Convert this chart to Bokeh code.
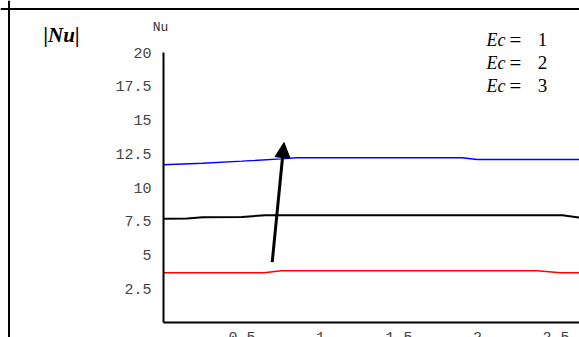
from bokeh.plotting import figure
from bokeh.models import LinearAxis, FixedTicker, Range1d, Label, Span, Arrow, NormalHead
from bokeh.embed import file_html
from bokeh.resources import INLINE

# ---- data ----
x_ec1 = [0, 0.64, 0.75, 2.38, 2.53, 2.7]
nu_ec1 = [3.68, 3.68, 3.83, 3.83, 3.68, 3.68]

x_ec2 = [0, 0.15, 0.25, 0.5, 0.65, 2.54, 2.7]
nu_ec2 = [7.68, 7.7, 7.8, 7.82, 7.95, 7.95, 7.7]

x_ec3 = [0, 0.25, 0.5, 0.75, 0.85, 1.9, 2.0, 2.7]
nu_ec3 = [11.68, 11.8, 11.95, 12.12, 12.2, 12.2, 12.07, 12.07]

x_ticks = [0.5, 1, 1.5, 2, 2.5]
x_tick_labels = ["0.5", "1", "1.5", "2", "2.5"]
y_ticks = [2.5, 5, 7.5, 10, 12.5, 15, 17.5, 20]
y_tick_labels = ["2.5", "5", "7.5", "10", "12.5", "15", "17.5", "20"]

legend_labels = ["1", "2", "3"]

# ---- layout geometry (pixels in page; canvas starts at page 0,0) ----
W, H = 579, 337
X0_PX, X_PER = 163.0, 157.0      # page px of x=0, px per unit
Y0_PX, Y_PER = 322.0, 13.5       # page px of y=0, px per unit

def dx(px):
    return (px - X0_PX) / X_PER

def dy(py):
    return (Y0_PX - py) / Y_PER

xr = Range1d(dx(0), dx(W))
yr = Range1d(dy(H), dy(0))

p = figure(width=W, height=H, output_backend="svg", toolbar_location=None,
           x_axis_type=None, y_axis_type=None, x_range=xr, y_range=yr,
           min_border=0, min_border_left=0, min_border_right=0,
           min_border_top=0, min_border_bottom=0)
p.outline_line_color = None
p.background_fill_color = "white"
p.border_fill_color = "white"

tick_font = "Liberation Mono"

yaxis = LinearAxis(fixed_location=0, bounds=(0, 20),
                   ticker=FixedTicker(ticks=y_ticks),
                   major_label_overrides={t: l for t, l in zip(y_ticks, y_tick_labels)})
xaxis = LinearAxis(fixed_location=0, bounds=(0, 3),
                   ticker=FixedTicker(ticks=x_ticks),
                   major_label_overrides={t: l for t, l in zip(x_ticks, x_tick_labels)})
for ax in (xaxis, yaxis):
    ax.axis_line_color = "black"
    ax.axis_line_width = 2
    ax.major_tick_line_color = None
    ax.minor_tick_line_color = None
    ax.major_tick_out = 0
    ax.major_tick_in = 0
    ax.minor_tick_out = 0
    ax.minor_tick_in = 0
    ax.major_label_text_font = tick_font
    ax.major_label_text_font_size = "15px"
    ax.major_label_text_color = "#444444"
yaxis.major_label_standoff = 12
xaxis.major_label_standoff = 9
p.add_layout(yaxis, "left")
p.add_layout(xaxis, "below")

p.line(x_ec1, nu_ec1, line_color="#ff0000", line_width=1.4)
p.line(x_ec2, nu_ec2, line_color="black", line_width=2)
p.line(x_ec3, nu_ec3, line_color="#0000ff", line_width=1.4)

# outer frame (left and top edges)
p.add_layout(Span(location=dx(8.5), dimension="height", line_color="black", line_width=2))
p.add_layout(Span(location=dy(8.5), dimension="width", line_color="black", line_width=2))

# arrow
p.add_layout(Arrow(end=NormalHead(size=15, fill_color="black", line_color="black", line_width=1),
                   x_start=dx(271.7), y_start=dy(261.7), x_end=dx(283.5), y_end=dy(142),
                   line_color="black", line_width=3))

# texts
p.add_layout(Label(x=dx(160), y=dy(27), text="Nu", text_font=tick_font,
                   text_font_size="13px", text_color="#333333",
                   text_align="center", text_baseline="middle"))
p.add_layout(Label(x=dx(43), y=dy(34), text="|Nu|", text_font="Liberation Serif",
                   text_font_style="bold italic", text_font_size="21px", text_color="black",
                   text_align="left", text_baseline="middle"))

ec_rows_py = [39, 62, 85]
for lab, py in zip(legend_labels, ec_rows_py):
    p.add_layout(Label(x=dx(486), y=dy(py), text="Ec", text_font="Liberation Serif",
                       text_font_style="italic", text_font_size="18px", text_color="black",
                       text_align="left", text_baseline="middle"))
    p.add_layout(Label(x=dx(515), y=dy(py), text="=", text_font="Liberation Serif",
                       text_font_size="21px", text_color="black",
                       text_align="center", text_baseline="middle"))
    p.add_layout(Label(x=dx(542), y=dy(py), text=lab, text_font="Liberation Serif",
                       text_font_size="19px", text_color="black",
                       text_align="center", text_baseline="middle"))

open("out.html", "w").write(file_html(p, INLINE))
